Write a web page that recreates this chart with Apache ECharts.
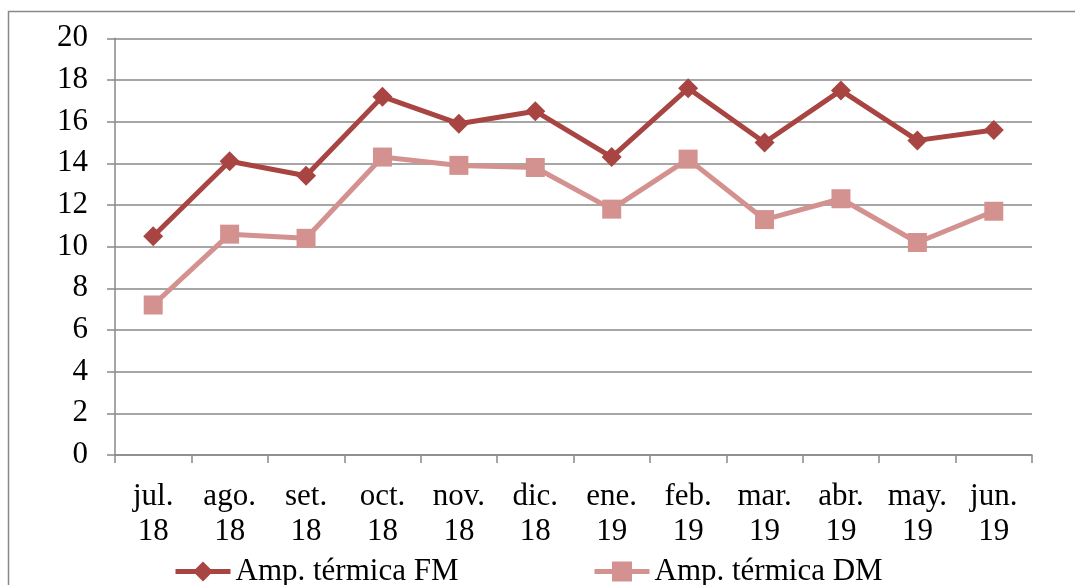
<!DOCTYPE html>
<html>
<head>
<meta charset="utf-8">
<script src="https://cdn.jsdelivr.net/npm/echarts@6/dist/echarts.min.js"></script>
<style>
  html, body { margin: 0; padding: 0; background: #ffffff; }
  #chart { width: 1075px; height: 585px; }
</style>
</head>
<body>
<div id="chart"></div>
<script>
// Monthly average thermal amplitude, July 2018 – June 2019
const months = ['jul.\n18', 'ago.\n18', 'set.\n18', 'oct.\n18', 'nov.\n18', 'dic.\n18',
                'ene.\n19', 'feb.\n19', 'mar.\n19', 'abr.\n19', 'may.\n19', 'jun.\n19'];
const ampFM = [10.5, 14.1, 13.4, 17.2, 15.9, 16.5, 14.3, 17.6, 15.0, 17.5, 15.1, 15.6];
const ampDM = [7.2, 10.6, 10.4, 14.3, 13.9, 13.8, 11.8, 14.2, 11.3, 12.3, 10.2, 11.7];
const yTicks = { min: 0, max: 20, interval: 2 };

const FONT = 'Liberation Serif, Times New Roman, serif';
const GRID_GRAY = '#898989';
const COLOR_FM = '#A84442';
const COLOR_DM = '#D39290';

const chart = echarts.init(document.getElementById('chart'), null, { renderer: 'canvas' });

const legendBase = {
  top: 556,
  itemWidth: 55, itemHeight: 25, padding: 0,
  lineStyle: { width: 5 },
  textStyle: { fontFamily: FONT, fontSize: 31, color: '#000000' }
};

chart.setOption({
  animation: false,
  backgroundColor: '#ffffff',
  graphic: [{
    type: 'rect',
    left: 6,
    top: 9,
    shape: { width: 1120, height: 620 },
    style: { fill: 'none', stroke: GRID_GRAY, lineWidth: 1.5 },
    z: -1,
    silent: true
  }],
  grid: { left: 115, right: 43, top: 38.3, bottom: 130, containLabel: false },
  legend: [
    Object.assign({ data: ['Amp. térmica FM'], left: 173 }, legendBase),
    Object.assign({ data: ['Amp. térmica DM'], left: 592 }, legendBase)
  ],
  xAxis: {
    type: 'category',
    data: months,
    boundaryGap: true,
    axisLine: { show: true, lineStyle: { color: GRID_GRAY, width: 1.5 } },
    axisTick: { show: true, length: 8, interval: 0, lineStyle: { color: GRID_GRAY, width: 1.5 } },
    axisLabel: {
      interval: 0, margin: 24,
      fontFamily: FONT, fontSize: 31, lineHeight: 35, color: '#000000'
    },
    splitLine: { show: false }
  },
  yAxis: {
    type: 'value',
    min: yTicks.min, max: yTicks.max, interval: yTicks.interval,
    axisLine: { show: true, lineStyle: { color: GRID_GRAY, width: 1.5 } },
    axisTick: { show: true, length: 8, lineStyle: { color: GRID_GRAY, width: 1.5 } },
    axisLabel: { margin: 27, fontFamily: FONT, fontSize: 31, color: '#000000' },
    splitLine: { show: true, lineStyle: { color: GRID_GRAY, width: 1.5 } }
  },
  series: [
    {
      name: 'Amp. térmica FM',
      type: 'line',
      data: ampFM,
      symbol: 'diamond',
      symbolSize: 20,
      lineStyle: { color: COLOR_FM, width: 5 },
      itemStyle: { color: COLOR_FM },
      z: 3
    },
    {
      name: 'Amp. térmica DM',
      type: 'line',
      data: ampDM,
      symbol: 'rect',
      symbolSize: 19,
      lineStyle: { color: COLOR_DM, width: 5 },
      itemStyle: { color: COLOR_DM },
      z: 2
    }
  ]
});
</script>
</body>
</html>
